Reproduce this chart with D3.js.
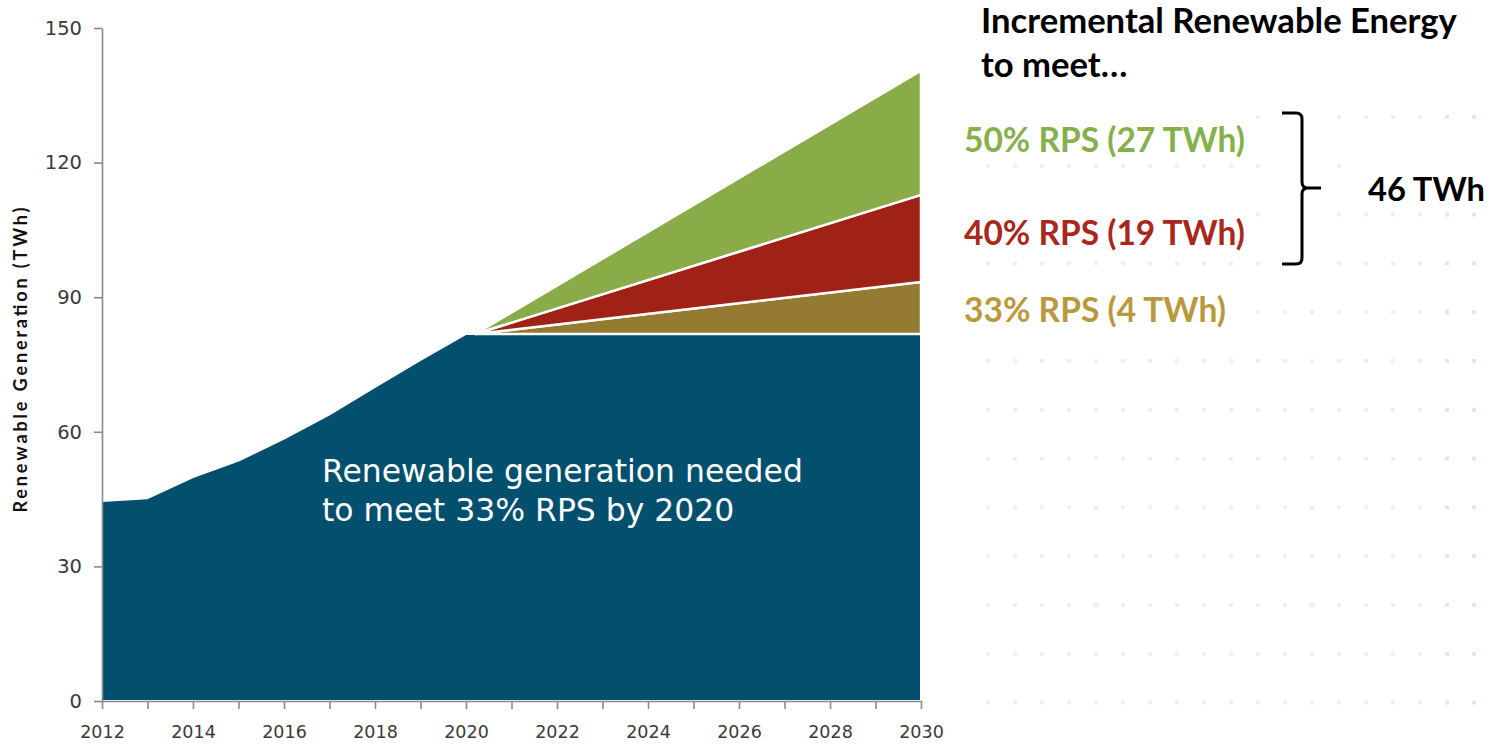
<!DOCTYPE html>
<html><head><meta charset="utf-8">
<script src="https://cdn.jsdelivr.net/npm/d3@7"></script>
<style>body{margin:0;background:#fff;} svg{display:block}</style>
</head><body>
<svg id="chart" width="1501" height="745"></svg>
<script>
// ---------------- data ----------------
const years = [2012,2013,2014,2015,2016,2017,2018,2019,2020,2021,2022,2023,2024,2025,2026,2027,2028,2029,2030];
const baseGen = [44.6,45.2,49.9,53.6,58.5,63.9,70.0,76.0,81.8,81.8,81.8,81.8,81.8,81.8,81.8,81.8,81.8,81.8,81.8];
const wedgeYears = [2020.2, 2030];
const wedgeBase = [81.8, 81.8];
const rps33 = [0, 11.6];
const rps40 = [0, 19.4];
const rps50 = [0, 27.7];
const seriesKeys = ["rps33","rps40","rps50"];
const yTicks = [0,30,60,90,120,150];
const xLabelYears = [2012,2014,2016,2018,2020,2022,2024,2026,2028,2030];
const titleLines = ["Incremental Renewable Energy","to meet…"];
const legendLabels = ["50% RPS (27 TWh)","40% RPS (19 TWh)","33% RPS (4 TWh)"];
const totalLabel = "46 TWh";
const areaNote = ["Renewable generation needed","to meet 33% RPS by 2020"];
const yTitle = "Renewable Generation (TWh)";

// ---------------- setup ----------------
const svg = d3.select("#chart");
const x = d3.scaleLinear().domain([2012,2030]).range([102,921]);
const y = d3.scaleLinear().domain([0,150]).range([701,28]);
const colors = {base:"#02506D", rps33:"#957B32", rps40:"#A02216", rps50:"#8AAC48"};
const textColors = {rps50:"#85B04A", rps40:"#A8281C", rps33:"#B9993B"};

function fit(sel, target){
  const n = sel.node();
  const w = n.getComputedTextLength();
  const fs = parseFloat(sel.attr("font-size"));
  sel.attr("font-size", (fs*target/w).toFixed(2));
}

const bg = svg.append("g");

// ---------------- base area ----------------
const baseRows = years.map((yr,i)=>({year:yr, v:baseGen[i]}));
svg.append("path").datum(baseRows)
  .attr("d", d3.area().x(d=>x(d.year)).y0(y(0)).y1(d=>y(d.v)))
  .attr("fill", colors.base).attr("stroke","#fff").attr("stroke-width",2).attr("stroke-linejoin","round");

// ---------------- stacked wedges ----------------
const wedgeRows = wedgeYears.map((yr,i)=>({year:yr, base:wedgeBase[i], rps33:rps33[i], rps40:rps40[i], rps50:rps50[i]}));
const stacked = d3.stack().keys(seriesKeys)(wedgeRows);
const wedgeArea = d3.area()
  .x(d=>x(d.data.year))
  .y0(d=>y(d.data.base + d[0]))
  .y1(d=>y(d.data.base + d[1]));
svg.append("g").selectAll("path").data(stacked).join("path")
  .attr("d", wedgeArea)
  .attr("fill", d=>colors[d.key])
  .attr("stroke","#fff").attr("stroke-width",2.5).attr("stroke-linejoin","miter");

// ---------------- axes ----------------
const yAxis = svg.append("g").attr("transform","translate(102,0)")
  .call(d3.axisLeft(y).tickValues(yTicks).tickSize(8).tickSizeOuter(0).tickPadding(12));
const xAxis = svg.append("g").attr("transform","translate(0,701)")
  .call(d3.axisBottom(x).tickValues(years).tickFormat(d=>xLabelYears.includes(d)?d:"").tickSize(8).tickSizeOuter(0).tickPadding(17));
[yAxis,xAxis].forEach(g=>{
  g.selectAll("path,line").attr("stroke","#8a8a8a").attr("stroke-width",1.6);
  g.selectAll("text").attr("fill","#3a3a3a").attr("font-family","DejaVu Sans");
});
yAxis.selectAll("text").attr("font-size",19.5);
xAxis.selectAll("text").attr("font-size",17.5);

// y title
svg.append("text").attr("transform","translate(27,360) rotate(-90)")
  .attr("text-anchor","middle").attr("font-family","Lato").attr("font-weight",700)
  .attr("font-size",18).attr("fill","#111").attr("textLength",305).attr("lengthAdjust","spacing")
  .text(yTitle);

// note inside area
const noteG = svg.append("g");
const n1 = noteG.append("text").attr("x",322).attr("y",482).attr("font-family","DejaVu Sans")
  .attr("font-size",29).attr("fill","#fff").text(areaNote[0]);
fit(n1, 481);
noteG.append("text").attr("x",322).attr("y",521).attr("font-family","DejaVu Sans")
  .attr("font-size",n1.attr("font-size")).attr("fill","#fff").text(areaNote[1]);

// ---------------- right annotations ----------------
const ann = svg.append("g").attr("font-family","Lato").attr("font-weight",700);
const t1 = ann.append("text").attr("x",981).attr("y",33).attr("font-size",31).attr("fill","#000").text(titleLines[0]);
fit(t1, 476);
ann.append("text").attr("x",981).attr("y",77).attr("font-size",t1.attr("font-size")).attr("fill","#000").text(titleLines[1]);

const legendPos = [
  {key:"rps50", y:152, w:281},
  {key:"rps40", y:245, w:281},
  {key:"rps33", y:322, w:262}
];
legendPos.forEach((p,i)=>{
  const t = ann.append("text").attr("x",964).attr("y",p.y).attr("font-size",28)
    .attr("fill",textColors[p.key]).text(legendLabels[i]);
  fit(t, p.w);
});
const tot = ann.append("text").attr("x",1368).attr("y",201).attr("font-size",28).attr("fill","#000").text(totalLabel);
fit(tot, 117);

// bracket
svg.append("path")
  .attr("d","M1282,113 H1296 Q1302,113 1302,119 V182 Q1302,188 1308,188 H1321 M1308,188 Q1302,188 1302,194 V258 Q1302,264 1296,264 H1282")
  .attr("fill","none").attr("stroke","#000").attr("stroke-width",3);

// ---------------- faint decorative dot pattern ----------------
const boxes = [];
ann.selectAll("text").each(function(){ const b=this.getBBox(); boxes.push({x0:b.x-6,x1:b.x+b.width+6,y0:b.y-4,y1:b.y+b.height+4}); });
boxes.push({x0:1275,x1:1330,y0:105,y1:272});
const dots = [];
for(let r=0;r<13;r++){
  const yy = 117 + r*48.8;
  for(let c=0;c<20;c++){
    const xx = 988 + c*27;
    if(xx>1499) continue;
    if(boxes.some(b=>xx>=b.x0&&xx<=b.x1&&yy>=b.y0&&yy<=b.y1)) continue;
    dots.push({x:xx,y:yy});
  }
}
bg.selectAll("rect").data(dots).join("rect")
  .attr("x",d=>d.x-2).attr("y",d=>d.y-2).attr("width",4).attr("height",4)
  .attr("fill",d=>d.x>1420?"#e2e8e6":"#eef0f0");
</script>
</body></html>
